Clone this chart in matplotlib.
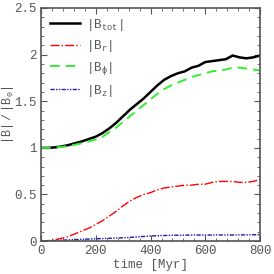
import matplotlib
matplotlib.use("Agg")
import matplotlib.pyplot as plt
from matplotlib.ticker import MultipleLocator

t = [0, 25, 50, 75, 100, 125, 150, 175, 200, 225, 250, 275, 300, 325, 350, 375, 400,
     425, 450, 475, 500, 525, 550, 575, 600, 625, 650, 675, 700, 725, 750, 775, 800]
b_tot = [1.0, 1.0, 1.005, 1.015, 1.03, 1.05, 1.07, 1.095, 1.12, 1.16, 1.21, 1.27, 1.34,
         1.41, 1.47, 1.53, 1.60, 1.67, 1.73, 1.77, 1.80, 1.82, 1.86, 1.88, 1.92, 1.93,
         1.94, 1.95, 1.99, 1.97, 1.96, 1.97, 1.99]
b_phi = [1.0, 1.0, 1.005, 1.01, 1.02, 1.035, 1.05, 1.07, 1.09, 1.12, 1.17, 1.22, 1.28,
         1.34, 1.40, 1.46, 1.52, 1.58, 1.63, 1.67, 1.70, 1.73, 1.76, 1.78, 1.80, 1.82,
         1.83, 1.84, 1.86, 1.86, 1.85, 1.84, 1.83]
b_r = [0.0, 0.005, 0.015, 0.03, 0.05, 0.08, 0.11, 0.14, 0.18, 0.22, 0.27, 0.32, 0.38,
       0.43, 0.47, 0.50, 0.52, 0.55, 0.57, 0.58, 0.59, 0.60, 0.60, 0.61, 0.61, 0.63,
       0.64, 0.64, 0.64, 0.63, 0.63, 0.64, 0.66]
b_z = [0.0, 0.003, 0.006, 0.01, 0.013, 0.016, 0.02, 0.022, 0.025, 0.028, 0.03, 0.033,
       0.036, 0.04, 0.045, 0.05, 0.055, 0.058, 0.06, 0.062, 0.063, 0.064, 0.065, 0.065,
       0.065, 0.066, 0.066, 0.066, 0.066, 0.067, 0.067, 0.068, 0.07]

gray = "#555555"
plt.rcParams['font.family'] = ['Liberation Mono', 'DejaVu Sans Mono']
plt.rcParams['mathtext.fontset'] = 'custom'
plt.rcParams['mathtext.rm'] = 'Liberation Mono'
plt.rcParams['mathtext.it'] = 'Liberation Mono'

fig = plt.figure(figsize=(2.74, 2.74), dpi=100)
ax = fig.add_axes([0.150, 0.120, 0.799, 0.851])

ax.plot(t, b_tot, color='black', lw=1.8, label=r'$|\mathrm{B}_{\mathrm{tot}}|$')
ax.plot(t, b_r, color='red', lw=1.0, ls='-.', label=r'$|\mathrm{B}_{\mathrm{r}}|$')
ax.plot(t, b_phi, color='#33ee33', lw=1.4, ls=(0, (5, 3)), label=r'$|\mathrm{B}_{\phi}|$')
ax.plot(t, b_z, color='#1a1aaa', lw=1.0, ls=(0, (3, 1, 1, 1, 1, 1)), label=r'$|\mathrm{B}_{\mathrm{z}}|$')

ax.set_xlim(0, 800)
ax.set_ylim(0, 2.5)
ax.xaxis.set_major_locator(MultipleLocator(200))
ax.xaxis.set_minor_locator(MultipleLocator(40))
ax.yaxis.set_major_locator(MultipleLocator(0.5))
ax.yaxis.set_minor_locator(MultipleLocator(0.1))
ax.set_yticks([0, 0.5, 1, 1.5, 2, 2.5])
ax.set_yticklabels(['0', '0.5', '1', '1.5', '2', '2.5'])
ax.tick_params(which='both', direction='in', top=True, right=True, colors=gray,
               labelsize=9, labelcolor=gray)
ax.tick_params(which='major', length=4, pad=3)
ax.tick_params(which='minor', length=2)
for s in ax.spines.values():
    s.set_color(gray)
    s.set_linewidth(1.2)

ax.set_xlabel('time [Myr]', color=gray, fontsize=9, labelpad=1)
ax.set_ylabel(r'$|\mathrm{B}|\ /\ |\mathrm{B}_0|$', color=gray, fontsize=8.5)
ax.yaxis.set_label_coords(-0.115, 0.54)

leg = ax.legend(loc='upper left', frameon=False, fontsize=9, handlelength=2.4,
                labelspacing=0.45, borderaxespad=0.3, handletextpad=0.5)
for txt in leg.get_texts():
    txt.set_color(gray)

fig.savefig('out.png', dpi=100)
